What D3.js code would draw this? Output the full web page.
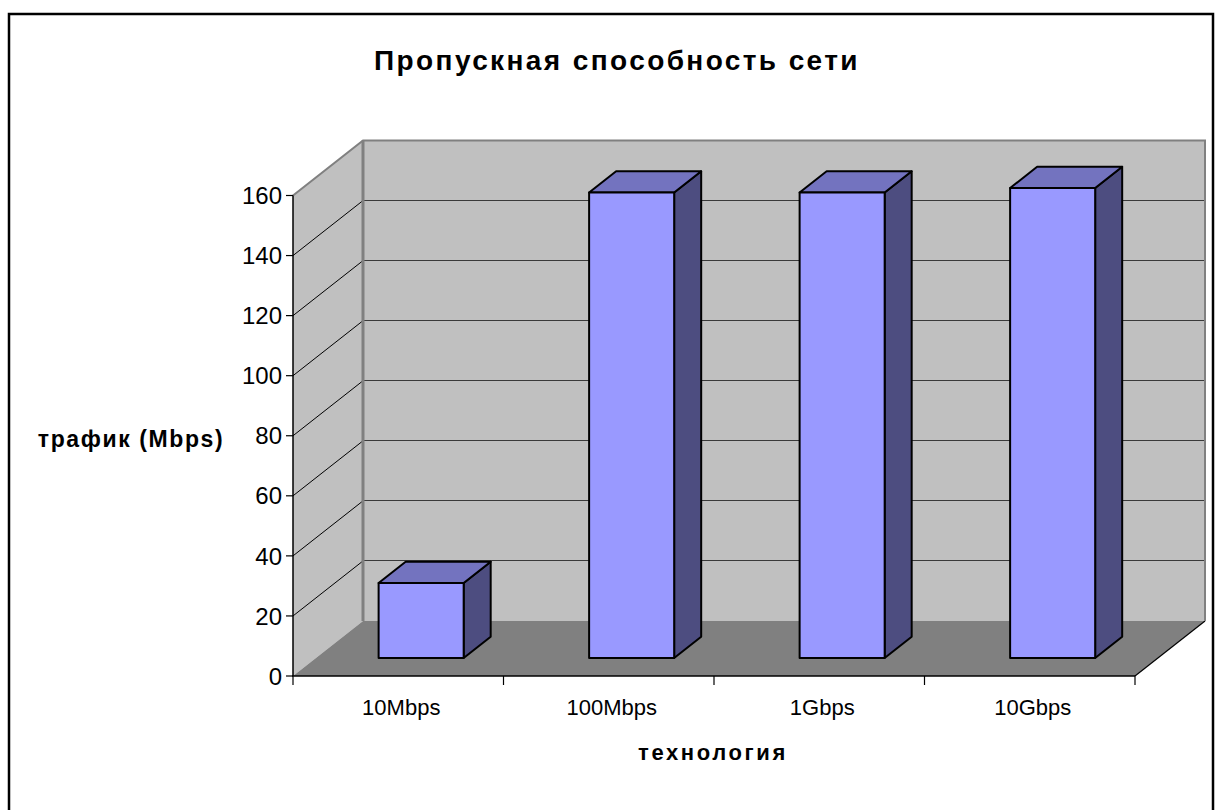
<!DOCTYPE html>
<html><head><meta charset="utf-8">
<script src="https://cdn.jsdelivr.net/npm/d3@7"></script>
<style>body{margin:0;background:#fff}svg{display:block}</style>
</head><body>
<script>
const categories = ["10Mbps","100Mbps","1Gbps","10Gbps"];
const values = [25,155,155,156.5];
const yTicks = [0,20,40,60,80,100,120,140,160];
const titleText = "Пропускная способность сети";
const yTitle = "трафик (Mbps)";
const xTitle = "технология";

const W=1215,H=810;
const font = "'Liberation Sans', Arial, sans-serif";
const svg = d3.select("body").append("svg").attr("width",W).attr("height",H);

// outer border
svg.append("rect").attr("x",9).attr("y",14).attr("width",1204).attr("height",830)
  .attr("fill","#fff").attr("stroke","#000").attr("stroke-width",2.5);

const x0=293, x1=1135;
const DX=70, DY=-55;
const x = d3.scaleBand().domain(categories).range([x0,x1]).paddingInner(0.596).paddingOuter(0.298);
const y = d3.scaleLinear().domain([0,160]).range([676,195.5]);
const step = x.step();
const line = d3.line();

// back wall
svg.append("rect").attr("x",x0+DX).attr("y",y(160)+DY).attr("width",x1-x0)
  .attr("height",y(0)-y(160)).attr("fill","#c0c0c0");
// left side wall
svg.append("path").attr("d",line([[x0,y(160)],[x0+DX,y(160)+DY],[x0+DX,y(0)+DY],[x0,y(0)]])+"Z")
  .attr("fill","#c0c0c0");

// gridlines
const gt = yTicks.filter(v=>v>0 && v<160);
svg.append("g").selectAll("line").data(gt).join("line")
  .attr("x1",x0+DX).attr("x2",x1+DX).attr("y1",d=>y(d)+DY).attr("y2",d=>y(d)+DY)
  .attr("stroke","#3a3a3a").attr("stroke-width",1).attr("shape-rendering","crispEdges");
svg.append("g").selectAll("line").data(gt).join("line")
  .attr("x1",x0).attr("x2",x0+DX).attr("y1",d=>y(d)).attr("y2",d=>y(d)+DY)
  .attr("stroke","#000").attr("stroke-width",1);

// floor
svg.append("path").attr("d",line([[x0,y(0)],[x0+DX,y(0)+DY],[x1+DX,y(0)+DY],[x1,y(0)]])+"Z")
  .attr("fill","#808080");
svg.append("path").attr("d",line([[x1,y(0)],[x1+DX,y(0)+DY]])).attr("stroke","#000").attr("stroke-width",1.2).attr("fill","none");

// wall edges
svg.append("path").attr("d",line([[x0,y(160)],[x0+DX,y(160)+DY],[x1+DX,y(160)+DY],[x1+DX,y(0)+DY]]))
  .attr("fill","none").attr("stroke","#808080").attr("stroke-width",2);
svg.append("path").attr("d",line([[x0+DX,y(160)+DY],[x0+DX,y(0)+DY]]))
  .attr("fill","none").attr("stroke","#808080").attr("stroke-width",3);

// axes
svg.append("line").attr("x1",x0).attr("x2",x0).attr("y1",y(160)).attr("y2",y(0))
  .attr("stroke","#000").attr("stroke-width",1.5);
svg.append("line").attr("x1",x0-1).attr("x2",x1).attr("y1",y(0)).attr("y2",y(0))
  .attr("stroke","#000").attr("stroke-width",1.5);
svg.append("g").selectAll("line").data(yTicks).join("line")
  .attr("x1",x0-7).attr("x2",x0).attr("y1",d=>y(d)).attr("y2",d=>y(d))
  .attr("stroke","#000").attr("stroke-width",1.2);
svg.append("g").selectAll("text").data(yTicks).join("text")
  .attr("x",x0-11).attr("y",d=>y(d)).attr("dy","0.36em").attr("text-anchor","end")
  .attr("font-family",font).attr("font-size",24).text(d=>d);
const bounds = d3.range(categories.length+1).map(i=>x0+i*step);
svg.append("g").selectAll("line").data(bounds).join("line")
  .attr("x1",d=>d).attr("x2",d=>d).attr("y1",y(0)).attr("y2",y(0)+9)
  .attr("stroke","#000").attr("stroke-width",1.2);
svg.append("g").selectAll("text").data(categories).join("text")
  .attr("x",(d,i)=>x0+(i+0.5)*step+3).attr("y",715).attr("text-anchor","middle")
  .attr("font-family",font).attr("font-size",22).text(d=>d);

// bars
const f0=0.327, f1=0.713;
const bars = svg.append("g").selectAll("g").data(categories.map((c,i)=>({c,v:values[i]}))).join("g");
function pts(d){
  const xa = x(d.c)+f0*DX, xb = xa+x.bandwidth();
  const yt = y(d.v)+f0*DY, yb = y(0)+f0*DY;
  const ex=(f1-f0)*DX, ey=(f1-f0)*DY;
  return {xa,xb,yt,yb,ex,ey};
}
bars.append("path").attr("d",d=>{const p=pts(d);return line([[p.xb,p.yt],[p.xb+p.ex,p.yt+p.ey],[p.xb+p.ex,p.yb+p.ey],[p.xb,p.yb]])+"Z";})
  .attr("fill","#4d4d80").attr("stroke","#000").attr("stroke-width",2).attr("stroke-linejoin","round");
bars.append("path").attr("d",d=>{const p=pts(d);return line([[p.xa,p.yt],[p.xa+p.ex,p.yt+p.ey],[p.xb+p.ex,p.yt+p.ey],[p.xb,p.yt]])+"Z";})
  .attr("fill","#7373bf").attr("stroke","#000").attr("stroke-width",2).attr("stroke-linejoin","round");
bars.append("path").attr("d",d=>{const p=pts(d);return line([[p.xa,p.yt],[p.xb,p.yt],[p.xb,p.yb],[p.xa,p.yb]])+"Z";})
  .attr("fill","#9999ff").attr("stroke","#000").attr("stroke-width",2).attr("stroke-linejoin","round");

// titles
svg.append("text").attr("x",617).attr("y",70).attr("text-anchor","middle")
  .attr("font-family",font).attr("font-size",28).attr("font-weight","bold")
  .attr("letter-spacing",2.4).text(titleText);
svg.append("text").attr("x",131).attr("y",447).attr("text-anchor","middle")
  .attr("font-family",font).attr("font-size",23).attr("font-weight","bold")
  .attr("letter-spacing",1.6).text(yTitle);
svg.append("text").attr("x",713).attr("y",760).attr("text-anchor","middle")
  .attr("font-family",font).attr("font-size",22).attr("font-weight","bold")
  .attr("letter-spacing",2.6).text(xTitle);
</script>
</body></html>
